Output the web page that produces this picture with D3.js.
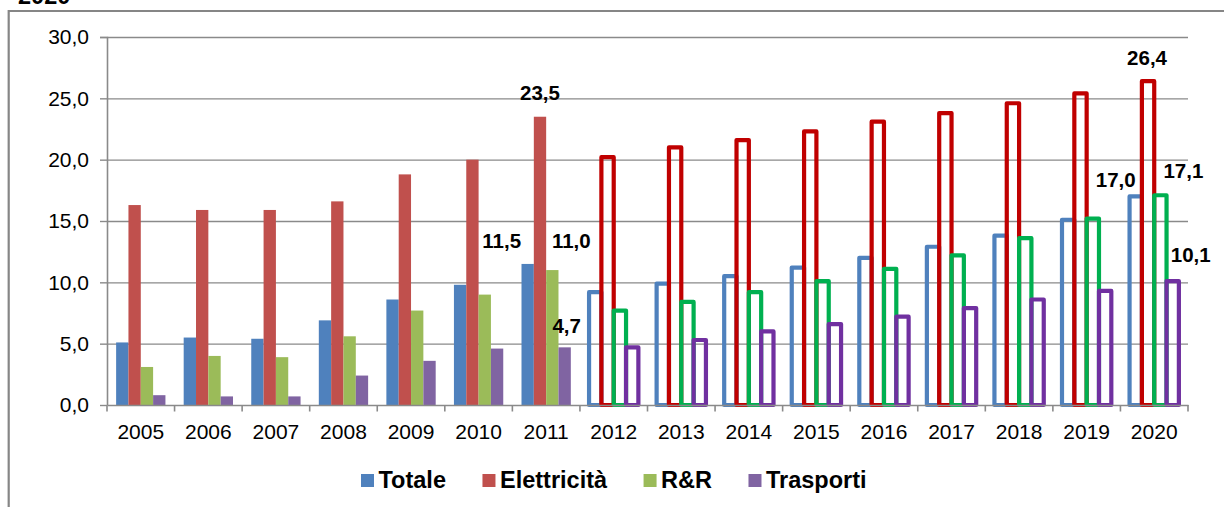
<!DOCTYPE html>
<html>
<head>
<meta charset="utf-8">
<script src="https://cdn.jsdelivr.net/npm/d3@7"></script>
<style>
  body { margin: 0; background: #fff; }
  svg { display: block; font-family: "Liberation Sans", Arial, sans-serif; }
</style>
</head>
<body>
<svg width="1224" height="507"></svg>
<script>
// data
const years = ['2005','2006','2007','2008','2009','2010','2011','2012','2013','2014','2015','2016','2017','2018','2019','2020'];
const series = ['Totale','Elettricità','R&R','Trasporti'];
const totale      = [5.1, 5.5, 5.4, 6.9, 8.6, 9.8, 11.5, 9.2, 9.9, 10.5, 11.2, 12.0, 12.9, 13.8, 15.1, 17.0];
const elettricita = [16.3, 15.9, 15.9, 16.6, 18.8, 20.0, 23.5, 20.2, 21.0, 21.6, 22.3, 23.1, 23.8, 24.6, 25.4, 26.4];
const rr          = [3.1, 4.0, 3.9, 5.6, 7.7, 9.0, 11.0, 7.7, 8.4, 9.2, 10.1, 11.1, 12.2, 13.6, 15.2, 17.1];
const trasporti   = [0.8, 0.7, 0.7, 2.4, 3.6, 4.6, 4.7, 4.7, 5.3, 6.0, 6.6, 7.2, 7.9, 8.6, 9.3, 10.1];
const projectedYears = ['2012','2013','2014','2015','2016','2017','2018','2019','2020'];
const yTicks = [0, 5, 10, 15, 20, 25, 30];
const labelled = [['2011','Totale'],['2011','Elettricità'],['2011','R&R'],['2011','Trasporti'],
                  ['2020','Totale'],['2020','Elettricità'],['2020','R&R'],['2020','Trasporti']];
const titleTail = '2020';

const valuesBySeries = {'Totale': totale, 'Elettricità': elettricita, 'R&R': rr, 'Trasporti': trasporti};

// styling
const fillColors = {'Totale':'#4F81BD','Elettricità':'#C0504D','R&R':'#9BBB59','Trasporti':'#8064A2'};
const lineColors = {'Totale':'#4F81BD','Elettricità':'#C00000','R&R':'#00B050','Trasporti':'#7030A0'};
// label nudges (Excel had them dragged around)
const labelOffset = {
  '2011|Totale':[-26,-15.5], '2011|Elettricità':[0,-16.5], '2011|R&R':[19,-22], '2011|Trasporti':[2,-14],
  '2020|Totale':[-20,-9], '2020|Elettricità':[-1,-16], '2020|R&R':[23,-17], '2020|Trasporti':[18,-19.5]
};

const svg = d3.select('svg');
const width = +svg.attr('width');
const height = +svg.attr('height');
const margin = {top: 37, right: 36, bottom: 102, left: 107};
const innerWidth = width - margin.left - margin.right;
const innerHeight = height - margin.top - margin.bottom;
const gridColor = '#8a8a8a';

const fmt = v => d3.format('.1f')(v).replace('.', ',');

// outer frame (only left and top edges are in view) + cut title
svg.append('path')
  .attr('d', `M8.7,${height}V11H${width}`)
  .attr('fill', 'none').attr('stroke', '#868686').attr('stroke-width', 2.2);

svg.append('text')
  .attr('x', 18).attr('y', 3.5)
  .attr('font-size', 23.5).attr('font-weight', 'bold')
  .text(titleTail);

const data = [];
years.forEach((yr, i) => {
  series.forEach(s => {
    data.push({year: yr, series: s, value: valuesBySeries[s][i], projected: projectedYears.includes(yr)});
  });
});

const xScale = d3.scaleBand().domain(years).range([0, innerWidth]).padding(0);
const x1 = d3.scaleBand().domain(series).range([0, xScale.bandwidth()]).paddingInner(0).paddingOuter(0.74);
const yScale = d3.scaleLinear().domain([0, 30]).range([innerHeight, 0]);

const g = svg.append('g').attr('transform', `translate(${margin.left},${margin.top})`);

// gridlines
const grid = g.append('g').call(d3.axisLeft(yScale).tickValues(yTicks.filter(t => t > 0)).tickSize(-innerWidth).tickFormat(''));
grid.select('.domain').remove();
grid.selectAll('.tick line').attr('stroke', gridColor).attr('stroke-width', 1.4);

// filled bars (history)
g.selectAll('rect.hist').data(data.filter(d => !d.projected))
  .enter().append('rect')
    .attr('class', 'hist')
    .attr('x', d => xScale(d.year) + x1(d.series))
    .attr('y', d => yScale(d.value))
    .attr('width', x1.bandwidth())
    .attr('height', d => yScale(0) - yScale(d.value))
    .attr('fill', d => fillColors[d.series]);

// hollow bars (projection)
g.selectAll('rect.proj').data(data.filter(d => d.projected))
  .enter().append('rect')
    .attr('class', 'proj')
    .attr('x', d => xScale(d.year) + x1(d.series))
    .attr('y', d => yScale(d.value))
    .attr('width', x1.bandwidth())
    .attr('height', d => yScale(0) - yScale(d.value))
    .attr('fill', 'none')
    .attr('stroke', d => lineColors[d.series])
    .attr('stroke-width', 4.2)
    .attr('stroke-linejoin', 'round');

// y axis
const yAxisG = g.append('g')
  .call(d3.axisLeft(yScale).tickValues(yTicks).tickSize(7).tickPadding(11).tickFormat(fmt));
yAxisG.select('.domain').attr('stroke', gridColor).attr('stroke-width', 1.6).attr('d', `M-7,0.5H0.5V${innerHeight}`);
yAxisG.selectAll('.tick line').attr('stroke', gridColor).attr('stroke-width', 1.4);
yAxisG.selectAll('text').attr('font-size', 21).attr('fill', '#000').attr('font-family', '"Liberation Sans", Arial, sans-serif');

// x axis
const xAxisG = g.append('g')
  .attr('transform', `translate(0,${innerHeight})`)
  .call(d3.axisBottom(xScale).tickSize(0).tickPadding(18.6));
xAxisG.select('.domain').attr('stroke', gridColor).attr('stroke-width', 1.6);
xAxisG.selectAll('text').attr('font-size', 21).attr('fill', '#000').attr('font-family', '"Liberation Sans", Arial, sans-serif');

// category boundary ticks
const bounds = years.map(yr => xScale(yr)).concat([xScale(years[years.length - 1]) + xScale.bandwidth()]);
xAxisG.selectAll('line.bound').data(bounds)
  .enter().append('line')
    .attr('class', 'bound')
    .attr('x1', d => d).attr('x2', d => d)
    .attr('y1', 0).attr('y2', 6.5)
    .attr('stroke', gridColor).attr('stroke-width', 1.6);

// data labels
g.selectAll('text.val').data(labelled.map(([yr, s]) => data.find(d => d.year === yr && d.series === s)))
  .enter().append('text')
    .attr('class', 'val')
    .attr('x', d => xScale(d.year) + x1(d.series) + x1.bandwidth() / 2 + labelOffset[d.year + '|' + d.series][0])
    .attr('y', d => yScale(d.value) + labelOffset[d.year + '|' + d.series][1])
    .attr('text-anchor', 'middle')
    .attr('font-size', 20.5)
    .attr('font-weight', 'bold')
    .text(d => fmt(d.value));

// legend
const legend = svg.append('g').attr('transform', 'translate(361,474)');
let lx = 0;
series.forEach(s => {
  const item = legend.append('g').attr('transform', `translate(${lx},0)`);
  item.append('rect').attr('width', 13).attr('height', 13).attr('fill', fillColors[s]);
  const t = item.append('text')
    .attr('x', 17.5).attr('y', 14)
    .attr('font-size', 23.5).attr('font-weight', 'bold')
    .text(s);
  lx += 17.5 + t.node().getComputedTextLength() + 36.5;
});
</script>
</body>
</html>
